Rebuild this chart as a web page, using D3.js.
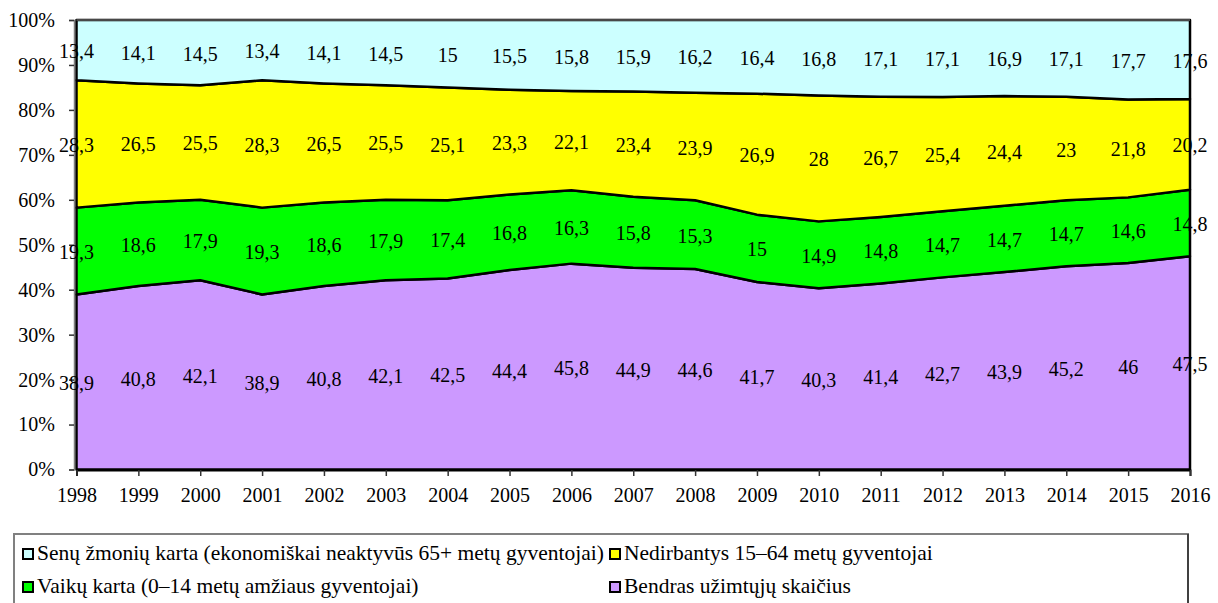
<!DOCTYPE html>
<html><head><meta charset="utf-8">
<script src="https://cdn.jsdelivr.net/npm/d3@7"></script>
<style>
body{margin:0;background:#fff;}
svg{display:block;}
</style></head>
<body><svg id="chart" width="1218" height="603" font-family="Liberation Serif, serif"></svg>
<script>
const years = [1998,1999,2000,2001,2002,2003,2004,2005,2006,2007,2008,2009,2010,2011,2012,2013,2014,2015,2016];
const employed = [38.9,40.8,42.1,38.9,40.8,42.1,42.5,44.4,45.8,44.9,44.6,41.7,40.3,41.4,42.7,43.9,45.2,46,47.5];
const children = [19.3,18.6,17.9,19.3,18.6,17.9,17.4,16.8,16.3,15.8,15.3,15,14.9,14.8,14.7,14.7,14.7,14.6,14.8];
const inactive = [28.3,26.5,25.5,28.3,26.5,25.5,25.1,23.3,22.1,23.4,23.9,26.9,28,26.7,25.4,24.4,23,21.8,20.2];
const elderly = [13.4,14.1,14.5,13.4,14.1,14.5,15,15.5,15.8,15.9,16.2,16.4,16.8,17.1,17.1,16.9,17.1,17.7,17.6];
const seriesNames = ["Bendras užimtųjų skaičius","Vaikų karta (0–14 metų amžiaus gyventojai)","Nedirbantys 15–64 metų gyventojai","Senų žmonių karta (ekonomiškai neaktyvūs 65+ metų gyventojai)"];
const seriesColors = ["#CC99FF","#00FF00","#FFFF00","#CCFFFF"];
const yTicks = [0,0.1,0.2,0.3,0.4,0.5,0.6,0.7,0.8,0.9,1];

const FONT = "'Liberation Serif', 'Times New Roman', Times, serif";
const keys = ["employed","children","inactive","elderly"];
const table = years.map((y,i)=>({year:y,employed:employed[i],children:children[i],inactive:inactive[i],elderly:elderly[i]}));

const svg = d3.select("#chart");
const x = d3.scaleLinear().domain([1998,2016]).range([76.5,1190]);
const y = d3.scaleLinear().domain([0,1]).range([469.5,20]);

const stack = d3.stack().keys(keys).offset(d3.stackOffsetExpand);
const layers = stack(table);

svg.append("rect").attr("x",x(1998)).attr("y",y(1)).attr("width",x(2016)-x(1998)).attr("height",y(0)-y(1))
  .attr("fill","none").attr("stroke","#808080").attr("stroke-width",1.5);

const area = d3.area().x(d=>x(d.data.year)).y0(d=>y(d[0])).y1(d=>y(d[1]));
svg.selectAll("path.layer").data(layers).enter().append("path")
  .attr("class","layer")
  .attr("d",area)
  .attr("fill",(d,i)=>seriesColors[i])
  .attr("stroke","#000").attr("stroke-width",2.5).attr("stroke-linejoin","round");

svg.append("line").attr("x1",x(1998)).attr("x2",x(2016)).attr("y1",y(1)).attr("y2",y(1)).attr("stroke","#606060").attr("stroke-width",1.5);

const yAxis = d3.axisLeft(y).tickValues(yTicks).tickFormat(d3.format(".0%")).tickSize(5).tickPadding(14);
const ga = svg.append("g").attr("transform","translate(74,0)").call(yAxis);
ga.attr("font-family",null).attr("font-size",null);
ga.select(".domain").attr("stroke","#808080").attr("stroke-width",1.5);
ga.selectAll(".tick line").attr("stroke","#333").attr("stroke-width",1.5);
ga.selectAll("text").style("font-family",FONT).style("font-size","20px").attr("fill","#000");

const xAxis = d3.axisBottom(x).tickValues(years).tickFormat(d3.format("d")).tickSize(6).tickPadding(12);
const gx = svg.append("g").attr("transform","translate(0,470)").call(xAxis);
gx.attr("font-family",null).attr("font-size",null);
gx.select(".domain").attr("stroke","#000").attr("stroke-width",2);
gx.selectAll(".tick line").attr("stroke","#333").attr("stroke-width",1.5);
gx.selectAll("text").style("font-family",FONT).style("font-size","20px").attr("fill","#000");

const fmt = v => String(v).replace(".",",");
layers.forEach((layer,li)=>{
  svg.append("g").selectAll("text").data(layer).enter().append("text")
    .attr("x",d=>x(d.data.year))
    .attr("y",d=>y((d[0]+d[1])/2)+8)
    .attr("text-anchor","middle")
    .style("font-family",FONT).style("font-size","20px")
    .attr("fill","#000")
    .text(d=>fmt(d.data[keys[li]]));
});

const lg = svg.append("g");
lg.append("rect").attr("x",14).attr("y",534).attr("width",1174).attr("height",100)
  .attr("fill","#fff").attr("stroke","#808080").attr("stroke-width",2);
lg.append("line").attr("x1",1188).attr("x2",1188).attr("y1",534).attr("y2",603).attr("stroke","#000").attr("stroke-width",1);
const legendItems = [
  {i:3,x:23,y:554},
  {i:2,x:610,y:554},
  {i:1,x:23,y:587},
  {i:0,x:610,y:587}
];
legendItems.forEach(it=>{
  lg.append("rect").attr("x",it.x).attr("y",it.y-5).attr("width",10).attr("height",10)
    .attr("fill",seriesColors[it.i]).attr("stroke","#000").attr("stroke-width",2);
  lg.append("text").attr("x",it.x+14).attr("y",it.y+6)
    .style("font-family",FONT).style("font-size","21.5px").attr("fill","#000")
    .text(seriesNames[it.i]);
});
</script></body></html>
